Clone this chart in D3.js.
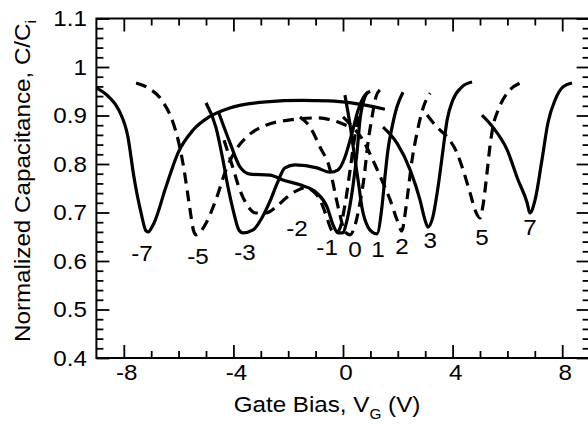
<!DOCTYPE html>
<html>
<head>
<meta charset="utf-8">
<script src="https://cdn.jsdelivr.net/npm/d3@7"></script>
<style>
  html, body { margin: 0; padding: 0; background: #fff; }
  svg { display: block; font-family: "Liberation Sans", Arial, Helvetica, sans-serif; }
</style>
</head>
<body>
<div id="chart"></div>
<script>
// C-V curves after different bias stresses, [gate bias (V), C/Ci]
const curveM7 = [[-9.0,0.957],[-8.54,0.938],[-8.18,0.911],[-7.85,0.856],[-7.63,0.773],[-7.37,0.699],[-7.19,0.662],[-7.12,0.660],[-6.9,0.678],[-6.46,0.753],[-6.02,0.823],[-5.47,0.870],[-4.89,0.897],[-4.16,0.915],[-2.81,0.928],[-1.5,0.931],[-0.5,0.930],[0.3,0.926],[1.53,0.913]];
const curveM5 = [[-7.55,0.967],[-7.12,0.957],[-6.57,0.928],[-6.2,0.885],[-5.99,0.843],[-5.8,0.788],[-5.62,0.720],[-5.44,0.660],[-5.36,0.654],[-5.0,0.678],[-4.64,0.726],[-4.27,0.788],[-3.91,0.829],[-3.43,0.860],[-2.81,0.880],[-1.93,0.891],[-0.95,0.895],[-0.11,0.885],[0.26,0.876]];
const curveM3 = [[-5.0,0.926],[-4.64,0.876],[-4.38,0.808],[-4.2,0.753],[-4.01,0.705],[-3.8,0.664],[-3.65,0.658],[-3.28,0.664],[-2.96,0.689],[-2.66,0.724],[-2.41,0.759],[-2.12,0.792],[-1.75,0.798],[-0.95,0.792],[-0.47,0.783],[-0.18,0.788],[0.07,0.814],[0.33,0.864],[0.55,0.911],[0.8,0.942],[0.99,0.950]];
const curveM2 = [[-4.34,0.849],[-4.05,0.798],[-3.76,0.746],[-3.47,0.713],[-3.18,0.699],[-2.81,0.699],[-2.45,0.711],[-2.08,0.730],[-1.72,0.744],[-1.39,0.751],[-1.09,0.744],[-0.84,0.726],[-0.62,0.695],[-0.44,0.666],[-0.29,0.656],[-0.11,0.668],[0.07,0.715],[0.26,0.788],[0.44,0.860],[0.62,0.911],[0.8,0.942]];
const curveM1 = [[-4.53,0.905],[-4.12,0.843],[-3.76,0.794],[-3.39,0.779],[-2.66,0.777],[-2.19,0.767],[-1.57,0.757],[-0.95,0.740],[-0.58,0.711],[-0.36,0.674],[-0.18,0.658],[-0.02,0.658],[0.15,0.685],[0.36,0.753],[0.51,0.823],[0.62,0.891],[0.8,0.938],[0.91,0.948]];
const curve0 = [[-1.57,0.897],[-1.2,0.876],[-0.84,0.835],[-0.47,0.788],[-0.29,0.740],[-0.11,0.695],[0.07,0.660],[0.26,0.654],[0.44,0.674],[0.62,0.720],[0.77,0.773],[0.91,0.843],[1.06,0.897],[1.2,0.938],[1.35,0.953]];
const curve1 = [[0.07,0.942],[0.26,0.880],[0.44,0.808],[0.55,0.767],[0.69,0.711],[0.91,0.670],[1.06,0.660],[1.24,0.656],[1.42,0.711],[1.53,0.773],[1.64,0.829],[1.79,0.876],[1.97,0.918],[2.19,0.948]];
const curve2 = [[0,0.897],[0.36,0.876],[0.73,0.849],[1.09,0.808],[1.46,0.761],[1.72,0.726],[1.97,0.685],[2.15,0.662],[2.26,0.695],[2.37,0.742],[2.52,0.808],[2.7,0.864],[2.92,0.915],[3.18,0.946]];
const curve3 = [[1.46,0.876],[1.97,0.843],[2.45,0.788],[2.81,0.726],[2.99,0.685],[3.1,0.670],[3.28,0.691],[3.47,0.753],[3.65,0.829],[3.8,0.891],[4.01,0.932],[4.34,0.959],[4.71,0.969]];
const curve5 = [[3.07,0.901],[3.43,0.876],[3.8,0.856],[4.16,0.823],[4.38,0.788],[4.64,0.740],[4.82,0.705],[5.0,0.689],[5.11,0.715],[5.26,0.784],[5.36,0.835],[5.47,0.876],[5.66,0.911],[5.99,0.946],[6.46,0.967]];
const curve7 = [[5.07,0.901],[5.47,0.876],[5.99,0.829],[6.39,0.767],[6.72,0.720],[6.82,0.699],[7.01,0.726],[7.26,0.808],[7.48,0.885],[7.74,0.932],[8.03,0.959],[8.36,0.967]];

const curveNames = ["-7", "-5", "-3", "-2", "-1", "0", "1", "2", "3", "5", "7"];
const curveDashed = [false, true, false, true, false, true, false, true, false, true, false];
// where each name sits (gate bias, C/Ci of the text baseline)
const nameX = [-7.34, -5.29, -3.58, -1.68, -0.58, 0.44, 1.28, 2.15, 3.18, 5.07, 6.82];
const nameY = [0.600, 0.594, 0.602, 0.652, 0.612, 0.608, 0.608, 0.614, 0.627, 0.633, 0.654];

const xTicks = [-8, -4, 0, 4, 8];
const xTickLabels = ["-8", "-4", "0", "4", "8"];
const yTicks = [0.4, 0.5, 0.6, 0.7, 0.8, 0.9, 1.0, 1.1];
const yTickLabels = ["0.4", "0.5", "0.6", "0.7", "0.8", "0.9", "1", "1.1"];

(function drawChart() {
  const config = {
    width: 588,
    height: 424,
    plot: { left: 96.4, right: 589.6, top: 18.5, bottom: 358 },
  };
  const { width, height, plot } = config;
  const series = [curveM7, curveM5, curveM3, curveM2, curveM1, curve0, curve1, curve2, curve3, curve5, curve7];

  const svg = d3.select("#chart").append("svg")
    .attr("width", width)
    .attr("height", height);

  const x = d3.scaleLinear().domain([-9, 9]).range([plot.left, plot.right]);
  const y = d3.scaleLinear().domain([0.4, 1.1]).range([plot.bottom, plot.top]);

  // minor tick positions
  const xMinor = d3.range(-8, 9).filter((v) => !xTicks.includes(v));
  const yMinor = d3.range(21, 55).filter((i) => i % 5 !== 0).map((i) => i / 50);

  // helper: text a bit wider than the stock font, like the original lettering
  function addText(g, px, py, str, anchor, size) {
    return g.append("text")
      .attr("transform", `translate(${px},${py}) scale(1.1,1)`)
      .attr("text-anchor", anchor)
      .attr("font-size", size)
      .attr("fill", "#000")
      .text(str);
  }

  function tickAxis(axis, values, size, translate) {
    const g = svg.append("g")
      .attr("transform", translate)
      .call(axis.tickValues(values).tickSize(size).tickSizeOuter(0).tickFormat(""));
    g.select(".domain").remove();
    g.selectAll(".tick line").attr("stroke", "#000").attr("stroke-width", 1.8);
    return g;
  }

  // ticks on all four sides, pointing inward
  tickAxis(d3.axisBottom(x), xTicks, -13, `translate(0,${plot.bottom})`);
  tickAxis(d3.axisBottom(x), xMinor, -7, `translate(0,${plot.bottom})`);
  tickAxis(d3.axisTop(x), xTicks, -13, `translate(0,${plot.top})`);
  tickAxis(d3.axisTop(x), xMinor, -7, `translate(0,${plot.top})`);
  tickAxis(d3.axisLeft(y), yTicks, -13, `translate(${plot.left},0)`);
  tickAxis(d3.axisLeft(y), yMinor, -7, `translate(${plot.left},0)`);
  tickAxis(d3.axisRight(y), yTicks, -13, `translate(${plot.right},0)`);
  tickAxis(d3.axisRight(y), yMinor, -7, `translate(${plot.right},0)`);

  // frame
  svg.append("rect")
    .attr("x", plot.left)
    .attr("y", plot.top)
    .attr("width", plot.right - plot.left)
    .attr("height", plot.bottom - plot.top)
    .attr("fill", "none")
    .attr("stroke", "#000")
    .attr("stroke-width", 2);

  // tick labels
  const labels = svg.append("g");
  xTicks.forEach((v, i) => addText(labels, x(v) + 3, 380, xTickLabels[i], "middle", 22));
  yTicks.forEach((v, i) => addText(labels, 87, y(v) + 7.5, yTickLabels[i], "end", 22));

  // axis titles
  const xTitle = addText(svg, 327, 412, "", "middle", 22);
  xTitle.append("tspan").text("Gate Bias, V");
  xTitle.append("tspan").attr("font-size", 14).attr("dy", 7).text("G");
  xTitle.append("tspan").attr("dy", -7).text(" (V)");

  const yTitle = svg.append("text")
    .attr("transform", "translate(30,181) rotate(-90) scale(1.1,1)")
    .attr("text-anchor", "middle")
    .attr("font-size", 22)
    .attr("fill", "#000");
  yTitle.append("tspan").text("Normalized Capacitance, C/C");
  yTitle.append("tspan").attr("font-size", 14).attr("dy", 6).text("i");

  // curves
  const line = d3.line()
    .x((d) => x(d[0]))
    .y((d) => y(d[1]))
    .curve(d3.curveMonotoneX);

  svg.append("g")
    .selectAll("path")
    .data(series)
    .join("path")
    .attr("d", line)
    .attr("fill", "none")
    .attr("stroke", "#000")
    .attr("stroke-width", 3.2)
    .attr("stroke-dasharray", (d, i) => (curveDashed[i] ? "11,7" : null));

  // curve names under their minima
  const names = svg.append("g");
  curveNames.forEach((n, i) => addText(names, x(nameX[i]), y(nameY[i]), n, "middle", 22));
})();
</script>
</body>
</html>
